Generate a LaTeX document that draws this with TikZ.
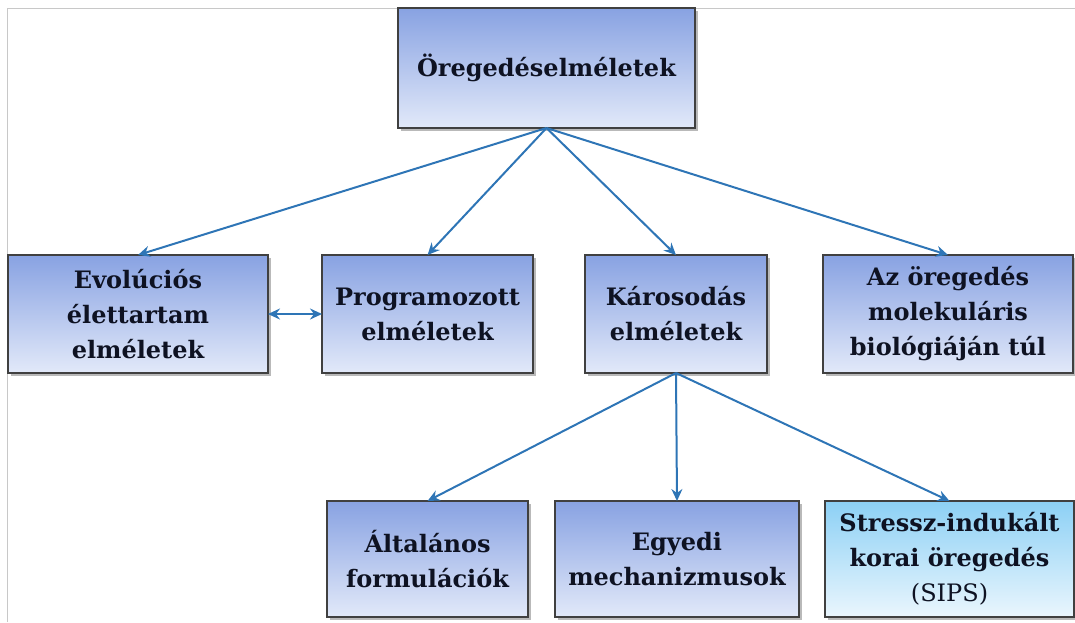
\documentclass[tikz,border=0pt]{standalone}
\usepackage{fontspec}
\setmainfont{DejaVu Serif}
\usetikzlibrary{arrows.meta,positioning,shadows}

\definecolor{boxtop}{RGB}{136,162,226}
\definecolor{boxbot}{RGB}{226,233,249}
\definecolor{sipstop}{RGB}{140,208,245}
\definecolor{sipsbot}{RGB}{234,246,253}
\definecolor{arrblue}{RGB}{46,117,182}
\definecolor{txtdark}{RGB}{14,18,34}
\definecolor{framegray}{RGB}{200,200,200}

\begin{document}
\begin{tikzpicture}[
  x=1pt, y=-1pt,
  >={Stealth[length=12pt, width=11pt, inset=4pt]},
  box/.style={draw=black!75, line width=1.3pt, rectangle,
              top color=boxtop, bottom color=boxbot,
              font=\fontsize{24}{35}\selectfont\bfseries, text=txtdark,
              align=center, inner sep=0pt, outer sep=0pt,
              minimum height=118pt,
              drop shadow={shadow xshift=3pt, shadow yshift=-3pt,
                           opacity=0.55}},
  sipsbox/.style={box, top color=sipstop, bottom color=sipsbot},
  arr/.style={->, line width=2pt, arrblue},
  darr/.style={<->, line width=2pt, arrblue}]

\useasboundingbox (0,0) rectangle (1075,622);

% frame of the slide
\draw[framegray, line width=1pt] (7,622) -- (7,8) -- (1075,8);

% Root
\node[box, minimum width=297pt, minimum height=120pt] (root) at (546.5,68)
  {Öregedéselméletek};

% Middle row: theory families
\node[box, minimum width=260pt] (evo) at (138,314)
  {Evolúciós\\élettartam\\elméletek};
\node[box, minimum width=211pt, right=54pt of evo]  (prog)
  {Programozott\\elméletek};
\node[box, minimum width=182pt, right=52pt of prog] (kar)
  {Károsodás\\elméletek};
\node[box, minimum width=250pt, right=56pt of kar]  (az)
  {Az öregedés\\molekuláris\\biológiáján túl};

% Bottom row: damage theories
\node[box, minimum width=201pt, minimum height=116pt] (alt) at (427.5,559)
  {Általános\\formulációk};
\node[box, minimum width=244pt, minimum height=116pt, right=27pt of alt] (egy)
  {Egyedi\\mechanizmusok};
\node[sipsbox, minimum width=249pt, minimum height=116pt, right=26pt of egy] (sips)
  {Stressz-indukált\\korai öregedés\\{\mdseries (SIPS)}};

% Root fan-out
\draw[arr] (root.south) -- (evo.north);
\draw[arr] (root.south) -- (prog.north);
\draw[arr] (root.south) -- (kar.north);
\draw[arr] (root.south) -- (az.north);

% Link between evolutionary and programmed
\draw[darr] (evo.east) -- (prog.west);

% Damage fan-out
\draw[arr] (kar.south) -- (alt.north);
\draw[arr] (kar.south) -- (egy.north);
\draw[arr] (kar.south) -- (sips.north);
\end{tikzpicture}
\end{document}
